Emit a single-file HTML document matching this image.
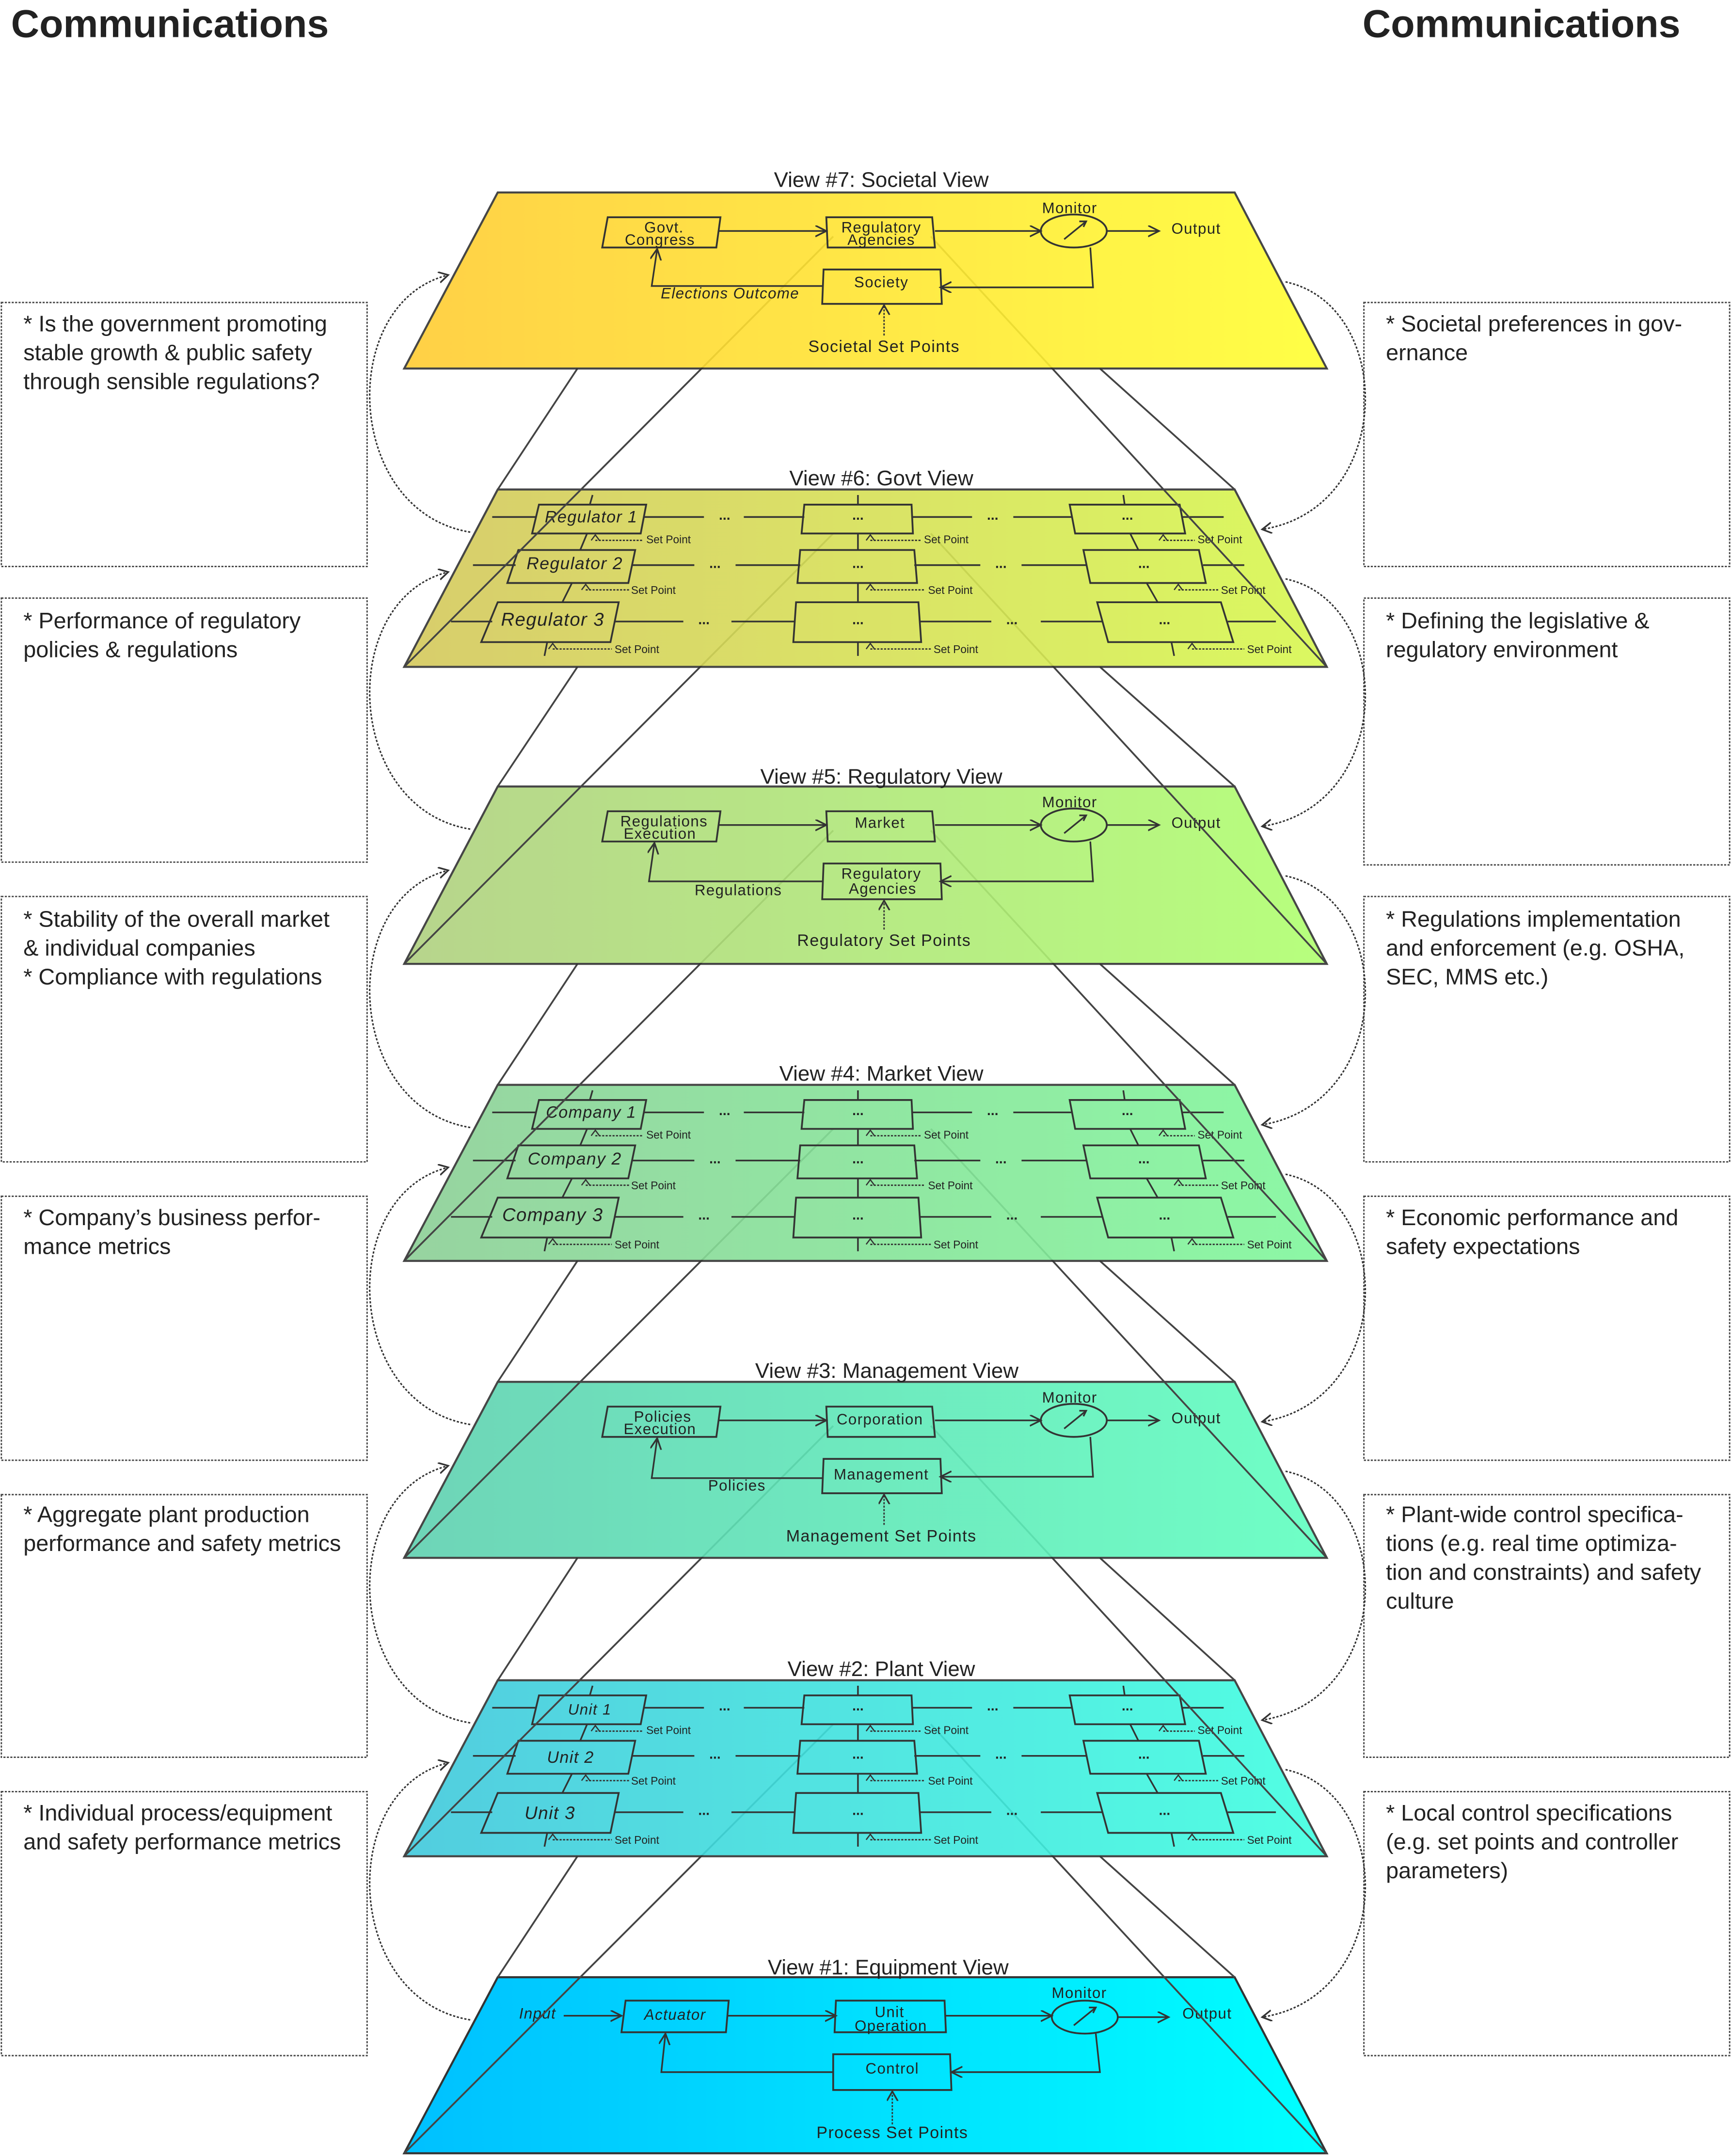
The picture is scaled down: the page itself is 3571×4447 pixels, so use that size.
<!DOCTYPE html>
<html><head><meta charset="utf-8"><style>
html,body{margin:0;padding:0;background:#fff;}
svg{display:block;}
text{font-family:"Liberation Sans",sans-serif;fill:#222;}
.t{font-size:15.5px;text-anchor:middle;}
.s{font-size:16.5px;}
.b{font-size:11px;text-anchor:middle;letter-spacing:0.5px;}
.sp{font-size:8px;}
.d{font-size:10px;text-anchor:middle;font-weight:bold;}
.ln{stroke:#333;stroke-width:1.2;fill:none;}
.bx{stroke:#333;stroke-width:1.3;fill:none;}
.pl{stroke:#333;stroke-width:1.5;}
.cn{stroke:#444;stroke-width:1.3;fill:none;}
.dt{stroke:#333;stroke-width:1;fill:none;stroke-dasharray:1.5 1;}
.arc{stroke:#333;stroke-width:1.1;fill:none;stroke-dasharray:1.6 1.2;}
.sb{stroke:#444;stroke-width:1;fill:#fff;stroke-dasharray:1.5 1;}
</style></head><body>
<svg width="3571" height="4447" viewBox="0 0 1259 1568" preserveAspectRatio="none" xmlns="http://www.w3.org/2000/svg">
<defs>
<marker id="ah" markerUnits="userSpaceOnUse" markerWidth="10" markerHeight="10" refX="8" refY="4" orient="auto"><path d="M0,0 L8,4 L0,8" fill="none" stroke="#333" stroke-width="1.2"/></marker>
<marker id="ad" markerUnits="userSpaceOnUse" markerWidth="10" markerHeight="10" refX="7" refY="4" orient="auto"><path d="M0,0 L7,4 L0,8" fill="none" stroke="#333" stroke-width="1.2"/></marker>
<linearGradient id="g7"><stop offset="0" stop-color="#ffcc33"/><stop offset="1" stop-color="#ffff33"/></linearGradient>
<linearGradient id="g6"><stop offset="0" stop-color="#d4c85c"/><stop offset="1" stop-color="#d8f850"/></linearGradient>
<linearGradient id="g5"><stop offset="0" stop-color="#b0d080"/><stop offset="1" stop-color="#b0ff70"/></linearGradient>
<linearGradient id="g4"><stop offset="0" stop-color="#8ccf96"/><stop offset="1" stop-color="#80f89c"/></linearGradient>
<linearGradient id="g3"><stop offset="0" stop-color="#5fd0b0"/><stop offset="1" stop-color="#60ffc0"/></linearGradient>
<linearGradient id="g2"><stop offset="0" stop-color="#40c8dc"/><stop offset="1" stop-color="#40ffe0"/></linearGradient>
<linearGradient id="g1"><stop offset="0" stop-color="#00c0ff"/><stop offset="1" stop-color="#00ffff"/></linearGradient>
</defs>

<text x="8" y="27" style="font-size:28.5px;font-weight:bold;">Communications</text>
<text x="991" y="27" style="font-size:28.5px;font-weight:bold;">Communications</text>

<g>
<rect class="sb" x="1" y="220" width="266" height="192"/>
<rect class="sb" x="1" y="435" width="266" height="192"/>
<rect class="sb" x="1" y="652" width="266" height="193"/>
<rect class="sb" x="1" y="870" width="266" height="192"/>
<rect class="sb" x="1" y="1087" width="266" height="191"/>
<rect class="sb" x="1" y="1303" width="266" height="192"/>
<rect class="sb" x="992" y="220" width="266" height="192"/>
<rect class="sb" x="992" y="435" width="266" height="194"/>
<rect class="sb" x="992" y="652" width="266" height="193"/>
<rect class="sb" x="992" y="870" width="266" height="192"/>
<rect class="sb" x="992" y="1087" width="266" height="191"/>
<rect class="sb" x="992" y="1303" width="266" height="192"/>
</g>
<g>
<text class="s" x="17" y="241">* Is the government promoting</text>
<text class="s" x="17" y="262">stable growth &amp; public safety</text>
<text class="s" x="17" y="283">through sensible regulations?</text>
<text class="s" x="17" y="457">* Performance of regulatory</text>
<text class="s" x="17" y="478">policies &amp; regulations</text>
<text class="s" x="17" y="674">* Stability of the overall market</text>
<text class="s" x="17" y="695">&amp; individual companies</text>
<text class="s" x="17" y="716">* Compliance with regulations</text>
<text class="s" x="17" y="891">* Company’s business perfor-</text>
<text class="s" x="17" y="912">mance metrics</text>
<text class="s" x="17" y="1107">* Aggregate plant production</text>
<text class="s" x="17" y="1128">performance and safety metrics</text>
<text class="s" x="17" y="1324">* Individual process/equipment</text>
<text class="s" x="17" y="1345">and safety performance metrics</text>
<text class="s" x="1008" y="241">* Societal preferences in gov-</text>
<text class="s" x="1008" y="262">ernance</text>
<text class="s" x="1008" y="457">* Defining the legislative &amp;</text>
<text class="s" x="1008" y="478">regulatory environment</text>
<text class="s" x="1008" y="674">* Regulations implementation</text>
<text class="s" x="1008" y="695">and enforcement (e.g. OSHA,</text>
<text class="s" x="1008" y="716">SEC, MMS etc.)</text>
<text class="s" x="1008" y="891">* Economic performance and</text>
<text class="s" x="1008" y="912">safety expectations</text>
<text class="s" x="1008" y="1107">* Plant-wide control specifica-</text>
<text class="s" x="1008" y="1128">tions (e.g. real time optimiza-</text>
<text class="s" x="1008" y="1149">tion and constraints) and safety</text>
<text class="s" x="1008" y="1170">culture</text>
<text class="s" x="1008" y="1324">* Local control specifications</text>
<text class="s" x="1008" y="1345">(e.g. set points and controller</text>
<text class="s" x="1008" y="1366">parameters)</text>
</g>

<g>
<path class="arc" marker-end="url(#ad)" d="M342,387 C250,372 245,220 326,200"/>
<path class="arc" marker-end="url(#ad)" d="M342,603 C250,588 245,436 326,416"/>
<path class="arc" marker-end="url(#ad)" d="M342,820 C250,805 245,653 326,633"/>
<path class="arc" marker-end="url(#ad)" d="M342,1036 C250,1021 245,869 326,849"/>
<path class="arc" marker-end="url(#ad)" d="M342,1253 C250,1238 245,1086 326,1066"/>
<path class="arc" marker-end="url(#ad)" d="M342,1469 C250,1454 245,1302 326,1282"/>
<path class="arc" marker-end="url(#ad)" d="M935,205 C1015,222 1015,370 918,385"/>
<path class="arc" marker-end="url(#ad)" d="M935,421 C1015,438 1015,586 918,601"/>
<path class="arc" marker-end="url(#ad)" d="M935,637 C1015,654 1015,802 918,818"/>
<path class="arc" marker-end="url(#ad)" d="M935,854 C1015,871 1015,1019 918,1034"/>
<path class="arc" marker-end="url(#ad)" d="M935,1070 C1015,1087 1015,1235 918,1251"/>
<path class="arc" marker-end="url(#ad)" d="M935,1287 C1015,1304 1015,1452 918,1467"/>
</g>

<!-- PLANE 1 -->
<polygon class="pl" fill="url(#g1)" points="362,1438 898,1438 965,1566 294,1566"/>
<text class="t" x="646" y="1436">View #1: Equipment View</text>
<g>
<text class="b" x="391" y="1468" style="font-style:italic">Input</text>
<path class="ln" marker-end="url(#ah)" d="M410,1466 L452,1466"/>
<polygon class="bx" points="455,1455 530,1455 528,1478 452,1478"/>
<text class="b" x="491" y="1469" style="font-style:italic">Actuator</text>
<path class="ln" marker-end="url(#ah)" d="M529,1466 L608,1466"/>
<polygon class="bx" points="608,1455 687,1455 688,1478 607,1478"/>
<text class="b" x="647" y="1467">Unit</text>
<text class="b" x="648" y="1477">Operation</text>
<path class="ln" marker-end="url(#ah)" d="M688,1466 L765,1466"/>
<ellipse class="bx" cx="789" cy="1467" rx="24" ry="12"/>
<path class="ln" d="M781,1473 L797,1460 M792,1460 L797,1460 L795,1464"/>
<text class="b" x="785" y="1453">Monitor</text>
<path class="ln" marker-end="url(#ah)" d="M813,1467 L850,1467"/>
<text class="b" x="878" y="1468">Output</text>
<path class="ln" marker-end="url(#ah)" d="M797,1479 L800,1507 L692,1507"/>
<polygon class="bx" points="606,1494 691,1494 692,1520 606,1520"/>
<text class="b" x="649" y="1508">Control</text>
<path class="ln" marker-end="url(#ah)" d="M606,1507 L481,1507 L484,1479"/>
<path class="dt" marker-end="url(#ad)" d="M649,1545 L649,1521"/>
<text class="b" x="649" y="1555" style="font-size:12px">Process Set Points</text>
</g>

<g class="cn"><path d="M420,1350 L362,1438 M800,1350 L898,1438 M294,1566 L606,1254 M965,1566 L677,1254"/></g>

<!-- PLANE 2 -->
<polygon class="pl" fill="url(#g2)" opacity="0.9" points="362,1222 898,1222 965,1350 294,1350"/>
<text class="t" x="641" y="1219">View #2: Plant View</text>
<g transform="translate(0,1222)">
<g class="bx">
<polygon points="392,11 470,11 466,32 387,32"/><polygon points="377,44 462,44 457,68 369,68"/><polygon points="362,82 450,82 444,111 350,111"/>
<polygon points="585,11 663,11 664,32 583,32"/><polygon points="582,44 665,44 667,68 580,68"/><polygon points="579,82 668,82 670,111 577,111"/>
<polygon points="778,11 858,11 862,32 782,32"/><polygon points="788,44 872,44 877,68 793,68"/><polygon points="798,82 888,82 897,111 806,111"/>
</g>
<path class="ln" d="M431,4 L429,11 M427,32 L422,44 M416,68 L409,82 M398,111 L396,121 M624,4 V11 M624,32 V44 M624,68 V82 M624,111 V121 M817,4 L818,11 M822,32 L828,44 M834,68 L842,82 M852,111 L854,121
M358,20 H390 M468,20 H512 M541,20 H585 M663,20 H707 M737,20 H780 M860,20 H890
M344,55 H375 M460,55 H505 M535,55 H582 M665,55 H713 M743,55 H790 M875,55 H905
M328,96 H358 M447,96 H497 M532,96 H578 M669,96 H721 M757,96 H802 M893,96 H928"/>
<g><text class="d" x="527" y="22">...</text><text class="d" x="624" y="22">...</text><text class="d" x="722" y="22">...</text><text class="d" x="820" y="22">...</text>
<text class="d" x="520" y="57">...</text><text class="d" x="624" y="57">...</text><text class="d" x="728" y="57">...</text><text class="d" x="832" y="57">...</text>
<text class="d" x="512" y="98">...</text><text class="d" x="624" y="98">...</text><text class="d" x="736" y="98">...</text><text class="d" x="847" y="98">...</text></g>
<path class="ln" style="stroke-width:0.9" d="M430,37 L433,33 L436,37 M423,73 L426,69 L429,73 M399,116 L402,112 L405,116 M630,37 L633,33 L636,37 M630,73 L633,69 L636,73 M630,116 L633,112 L636,116 M843,37 L846,33 L849,37 M854,73 L857,69 L860,73 M864,116 L867,112 L870,116"/>
<path class="dt" d="M433,37 H468 M426,73 H458 M402,116 H445 M633,37 H670 M633,73 H673 M633,116 H677 M846,37 H869 M857,73 H886 M867,116 H905"/>
<g><text class="sp" x="470" y="39">Set Point</text><text class="sp" x="459" y="76">Set Point</text><text class="sp" x="447" y="119">Set Point</text>
<text class="sp" x="672" y="39">Set Point</text><text class="sp" x="675" y="76">Set Point</text><text class="sp" x="679" y="119">Set Point</text>
<text class="sp" x="871" y="39">Set Point</text><text class="sp" x="888" y="76">Set Point</text><text class="sp" x="907" y="119">Set Point</text></g>
<text class="b" x="429" y="25" style="font-style:italic">Unit 1</text>
<text class="b" x="415" y="60" style="font-style:italic;font-size:12px">Unit 2</text>
<text class="b" x="400" y="101" style="font-style:italic;font-size:13px">Unit 3</text>
</g>

<g class="cn"><path d="M420,1133 L362,1222 M800,1133 L898,1222 M294,1350 L606,1037 M965,1350 L677,1037"/></g>

<!-- PLANE 3 -->
<polygon class="pl" fill="url(#g3)" opacity="0.9" points="362,1005 898,1005 965,1133 294,1133"/>
<text class="t" x="645" y="1002">View #3: Management View</text>
<g transform="translate(0,865)">
<polygon class="bx" points="442,158 524,158 521,180 438,180"/>
<text class="b" x="482" y="169">Policies</text><text class="b" x="480" y="178">Execution</text>
<path class="ln" marker-end="url(#ah)" d="M523,168 L601,168"/>
<polygon class="bx" points="601,158 678,158 680,180 602,180"/>
<text class="b" x="640" y="171">Corporation</text>
<path class="ln" marker-end="url(#ah)" d="M680,168 L757,168"/>
<ellipse class="bx" cx="781" cy="168" rx="24" ry="12"/>
<path class="ln" d="M774,174 L790,161 M785,161 L790,161 L788,165"/>
<text class="b" x="778" y="155">Monitor</text>
<path class="ln" marker-end="url(#ah)" d="M805,168 L843,168"/>
<text class="b" x="870" y="170">Output</text>
<path class="ln" marker-end="url(#ah)" d="M793,180 L795,209 L684,209"/>
<polygon class="bx" points="599,196 684,196 685,221 598,221"/>
<text class="b" x="641" y="211">Management</text>
<path class="ln" marker-end="url(#ah)" d="M598,210 L474,210 L478,181"/>
<text class="b" x="536" y="219">Policies</text>
<path class="dt" marker-end="url(#ad)" d="M643,244 L643,222"/>
<text class="b" x="641" y="256" style="font-size:12px">Management Set Points</text>
</g>

<g class="cn"><path d="M420,917 L362,1005 M800,917 L898,1005 M294,1133 L606,821 M965,1133 L677,821"/></g>

<!-- PLANE 4 -->
<polygon class="pl" fill="url(#g4)" opacity="0.9" points="362,789 898,789 965,917 294,917"/>
<text class="t" x="641" y="786">View #4: Market View</text>
<g transform="translate(0,789)">
<g class="bx">
<polygon points="392,11 470,11 466,32 387,32"/><polygon points="377,44 462,44 457,68 369,68"/><polygon points="362,82 450,82 444,111 350,111"/>
<polygon points="585,11 663,11 664,32 583,32"/><polygon points="582,44 665,44 667,68 580,68"/><polygon points="579,82 668,82 670,111 577,111"/>
<polygon points="778,11 858,11 862,32 782,32"/><polygon points="788,44 872,44 877,68 793,68"/><polygon points="798,82 888,82 897,111 806,111"/>
</g>
<path class="ln" d="M431,4 L429,11 M427,32 L422,44 M416,68 L409,82 M398,111 L396,121 M624,4 V11 M624,32 V44 M624,68 V82 M624,111 V121 M817,4 L818,11 M822,32 L828,44 M834,68 L842,82 M852,111 L854,121
M358,20 H390 M468,20 H512 M541,20 H585 M663,20 H707 M737,20 H780 M860,20 H890
M344,55 H375 M460,55 H505 M535,55 H582 M665,55 H713 M743,55 H790 M875,55 H905
M328,96 H358 M447,96 H497 M532,96 H578 M669,96 H721 M757,96 H802 M893,96 H928"/>
<g><text class="d" x="527" y="22">...</text><text class="d" x="624" y="22">...</text><text class="d" x="722" y="22">...</text><text class="d" x="820" y="22">...</text>
<text class="d" x="520" y="57">...</text><text class="d" x="624" y="57">...</text><text class="d" x="728" y="57">...</text><text class="d" x="832" y="57">...</text>
<text class="d" x="512" y="98">...</text><text class="d" x="624" y="98">...</text><text class="d" x="736" y="98">...</text><text class="d" x="847" y="98">...</text></g>
<path class="ln" style="stroke-width:0.9" d="M430,37 L433,33 L436,37 M423,73 L426,69 L429,73 M399,116 L402,112 L405,116 M630,37 L633,33 L636,37 M630,73 L633,69 L636,73 M630,116 L633,112 L636,116 M843,37 L846,33 L849,37 M854,73 L857,69 L860,73 M864,116 L867,112 L870,116"/>
<path class="dt" d="M433,37 H468 M426,73 H458 M402,116 H445 M633,37 H670 M633,73 H673 M633,116 H677 M846,37 H869 M857,73 H886 M867,116 H905"/>
<g><text class="sp" x="470" y="39">Set Point</text><text class="sp" x="459" y="76">Set Point</text><text class="sp" x="447" y="119">Set Point</text>
<text class="sp" x="672" y="39">Set Point</text><text class="sp" x="675" y="76">Set Point</text><text class="sp" x="679" y="119">Set Point</text>
<text class="sp" x="871" y="39">Set Point</text><text class="sp" x="888" y="76">Set Point</text><text class="sp" x="907" y="119">Set Point</text></g>
<text class="b" x="430" y="24" style="font-style:italic;font-size:12px">Company 1</text>
<text class="b" x="418" y="58" style="font-style:italic;font-size:12.5px">Company 2</text>
<text class="b" x="402" y="99" style="font-style:italic;font-size:13.5px">Company 3</text>
</g>

<g class="cn"><path d="M420,701 L362,789 M800,701 L898,789 M294,917 L606,604 M965,917 L677,604"/></g>

<!-- PLANE 5 -->
<polygon class="pl" fill="url(#g5)" opacity="0.9" points="362,572 898,572 965,701 294,701"/>
<text class="t" x="641" y="570">View #5: Regulatory View</text>
<g transform="translate(0,432)">
<polygon class="bx" points="442,158 524,158 521,180 438,180"/>
<text class="b" x="483" y="169">Regulations</text><text class="b" x="480" y="178">Execution</text>
<path class="ln" marker-end="url(#ah)" d="M523,168 L601,168"/>
<polygon class="bx" points="601,158 678,158 680,180 602,180"/>
<text class="b" x="640" y="170">Market</text>
<path class="ln" marker-end="url(#ah)" d="M680,168 L757,168"/>
<ellipse class="bx" cx="781" cy="168" rx="24" ry="12"/>
<path class="ln" d="M774,174 L790,161 M785,161 L790,161 L788,165"/>
<text class="b" x="778" y="155">Monitor</text>
<path class="ln" marker-end="url(#ah)" d="M805,168 L843,168"/>
<text class="b" x="870" y="170">Output</text>
<path class="ln" marker-end="url(#ah)" d="M793,180 L795,209 L684,209"/>
<polygon class="bx" points="599,196 684,196 685,222 598,222"/>
<text class="b" x="641" y="207">Regulatory</text><text class="b" x="642" y="218">Agencies</text>
<path class="ln" marker-end="url(#ah)" d="M598,209 L472,209 L476,181"/>
<text class="b" x="537" y="219">Regulations</text>
<path class="dt" marker-end="url(#ad)" d="M643,244 L643,223"/>
<text class="b" x="643" y="256" style="font-size:12px">Regulatory Set Points</text>
</g>

<g class="cn"><path d="M420,485 L362,572 M800,485 L898,572 M294,701 L606,388 M965,701 L677,388"/></g>

<!-- PLANE 6 -->
<polygon class="pl" fill="url(#g6)" opacity="0.9" points="362,356 898,356 965,485 294,485"/>
<text class="t" x="641" y="353">View #6: Govt View</text>
<g transform="translate(0,356)">
<g class="bx">
<polygon points="392,11 470,11 466,32 387,32"/><polygon points="377,44 462,44 457,68 369,68"/><polygon points="362,82 450,82 444,111 350,111"/>
<polygon points="585,11 663,11 664,32 583,32"/><polygon points="582,44 665,44 667,68 580,68"/><polygon points="579,82 668,82 670,111 577,111"/>
<polygon points="778,11 858,11 862,32 782,32"/><polygon points="788,44 872,44 877,68 793,68"/><polygon points="798,82 888,82 897,111 806,111"/>
</g>
<path class="ln" d="M431,4 L429,11 M427,32 L422,44 M416,68 L409,82 M398,111 L396,121 M624,4 V11 M624,32 V44 M624,68 V82 M624,111 V121 M817,4 L818,11 M822,32 L828,44 M834,68 L842,82 M852,111 L854,121
M358,20 H390 M468,20 H512 M541,20 H585 M663,20 H707 M737,20 H780 M860,20 H890
M344,55 H375 M460,55 H505 M535,55 H582 M665,55 H713 M743,55 H790 M875,55 H905
M328,96 H358 M447,96 H497 M532,96 H578 M669,96 H721 M757,96 H802 M893,96 H928"/>
<g><text class="d" x="527" y="22">...</text><text class="d" x="624" y="22">...</text><text class="d" x="722" y="22">...</text><text class="d" x="820" y="22">...</text>
<text class="d" x="520" y="57">...</text><text class="d" x="624" y="57">...</text><text class="d" x="728" y="57">...</text><text class="d" x="832" y="57">...</text>
<text class="d" x="512" y="98">...</text><text class="d" x="624" y="98">...</text><text class="d" x="736" y="98">...</text><text class="d" x="847" y="98">...</text></g>
<path class="ln" style="stroke-width:0.9" d="M430,37 L433,33 L436,37 M423,73 L426,69 L429,73 M399,116 L402,112 L405,116 M630,37 L633,33 L636,37 M630,73 L633,69 L636,73 M630,116 L633,112 L636,116 M843,37 L846,33 L849,37 M854,73 L857,69 L860,73 M864,116 L867,112 L870,116"/>
<path class="dt" d="M433,37 H468 M426,73 H458 M402,116 H445 M633,37 H670 M633,73 H673 M633,116 H677 M846,37 H869 M857,73 H886 M867,116 H905"/>
<g><text class="sp" x="470" y="39">Set Point</text><text class="sp" x="459" y="76">Set Point</text><text class="sp" x="447" y="119">Set Point</text>
<text class="sp" x="672" y="39">Set Point</text><text class="sp" x="675" y="76">Set Point</text><text class="sp" x="679" y="119">Set Point</text>
<text class="sp" x="871" y="39">Set Point</text><text class="sp" x="888" y="76">Set Point</text><text class="sp" x="907" y="119">Set Point</text></g>
<text class="b" x="430" y="24" style="font-style:italic;font-size:12px">Regulator 1</text>
<text class="b" x="418" y="58" style="font-style:italic;font-size:12.5px">Regulator 2</text>
<text class="b" x="402" y="99" style="font-style:italic;font-size:13.5px">Regulator 3</text>
</g>

<g class="cn"><path d="M420,268 L362,356 M800,268 L898,356 M294,485 L606,172 M965,485 L677,172"/></g>

<!-- PLANE 7 -->
<polygon class="pl" fill="url(#g7)" opacity="0.9" points="362,140 898,140 965,268 294,268"/>
<text class="t" x="641" y="136">View #7: Societal View</text>
<g>
<polygon class="bx" points="442,158 524,158 521,180 438,180"/>
<text class="b" x="483" y="169">Govt.</text><text class="b" x="480" y="178">Congress</text>
<path class="ln" marker-end="url(#ah)" d="M523,168 L601,168"/>
<polygon class="bx" points="601,158 678,158 680,180 602,180"/>
<text class="b" x="641" y="169">Regulatory</text><text class="b" x="641" y="178">Agencies</text>
<path class="ln" marker-end="url(#ah)" d="M680,168 L757,168"/>
<ellipse class="bx" cx="781" cy="168" rx="24" ry="12"/>
<path class="ln" d="M774,174 L790,161 M785,161 L790,161 L788,165"/>
<text class="b" x="778" y="155">Monitor</text>
<path class="ln" marker-end="url(#ah)" d="M805,168 L843,168"/>
<text class="b" x="870" y="170">Output</text>
<path class="ln" marker-end="url(#ah)" d="M793,180 L795,209 L684,209"/>
<polygon class="bx" points="599,196 684,196 685,221 598,221"/>
<text class="b" x="641" y="209">Society</text>
<path class="ln" marker-end="url(#ah)" d="M598,208 L474,208 L478,181"/>
<text class="b" x="531" y="217" style="font-style:italic">Elections Outcome</text>
<path class="dt" marker-end="url(#ad)" d="M643,244 L643,222"/>
<text class="b" x="643" y="256" style="font-size:12px">Societal Set Points</text>
</g>
</svg>
</body></html>
